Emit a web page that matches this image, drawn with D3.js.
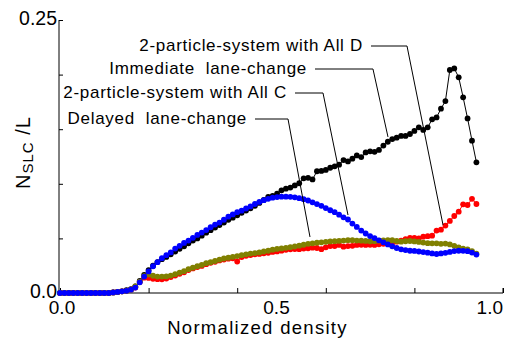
<!DOCTYPE html>
<html>
<head>
<meta charset="utf-8">
<script src="https://cdn.jsdelivr.net/npm/d3@7"></script>
<style>
  body { margin: 0; background: #fff; }
  svg text { font-family: "Liberation Sans", Arial, sans-serif; fill: #000; white-space: pre; }
</style>
</head>
<body>
<div id="chart"></div>
<script>
// normalized density (x) shared by all series
const density = [
  0.00,0.01,0.02,0.03,0.04,0.05,0.06,0.07,0.08,0.09,
  0.10,0.11,0.12,0.13,0.14,0.15,0.16,0.17,0.18,0.19,
  0.20,0.21,0.22,0.23,0.24,0.25,0.26,0.27,0.28,0.29,
  0.30,0.31,0.32,0.33,0.34,0.35,0.36,0.37,0.38,0.39,
  0.40,0.41,0.42,0.43,0.44,0.45,0.46,0.47,0.48,0.49,
  0.50,0.51,0.52,0.53,0.54,0.55,0.56,0.57,0.58,0.59,
  0.60,0.61,0.62,0.63,0.64,0.65,0.66,0.67,0.68,0.69,
  0.70,0.71,0.72,0.73,0.74,0.75,0.76,0.77,0.78,0.79,
  0.80,0.81,0.82,0.83,0.84,0.85,0.86,0.87,0.88,0.89,
  0.90,0.91,0.92,0.93,0.94
];

// 2-particle-system with All D (black)
const allD = [
  0,0,0,0,0,0,0,0,0,0,
  0,0,0.0005,0.001,0.0015,0.0025,0.0035,0.006,0.011,0.0165,
  0.021,0.025,0.0283,0.031,0.033,0.0355,0.038,0.0405,0.0428,0.0455,
  0.048,0.05,0.0525,0.0552,0.0575,0.06,0.0622,0.0645,0.067,0.069,
  0.0712,0.0735,0.0755,0.0775,0.0798,0.0825,0.0852,0.088,0.089,0.091,
  0.094,0.0955,0.0965,0.0985,0.1005,0.105,0.1055,0.104,0.1115,0.1118,
  0.1127,0.1147,0.116,0.1175,0.1217,0.1205,0.123,0.126,0.1245,0.1287,
  0.1297,0.1293,0.131,0.135,0.1385,0.141,0.1422,0.1438,0.1438,0.1456,
  0.1484,0.1517,0.1493,0.1517,0.159,0.1608,0.1688,0.1758,0.2042,0.2057,
  0.1975,0.1792,0.1599,0.1395,0.1197
];

// Immediate lane-change (red)
const immediate = [
  0,0,0,0,0,0,0,0,0,0,
  0,0,0.0005,0.001,0.0015,0.002,0.003,0.005,0.01,0.014,
  0.0138,0.013,0.0127,0.0125,0.0133,0.0146,0.016,0.0176,0.019,0.021,
  0.0225,0.0238,0.0248,0.0264,0.0276,0.0286,0.0298,0.0306,0.0314,0.0318,
  0.0288,0.0329,0.034,0.0348,0.0354,0.0358,0.0363,0.0368,0.0376,0.0381,
  0.0388,0.0395,0.04,0.0403,0.0401,0.0407,0.041,0.0415,0.0412,0.0401,
  0.0418,0.043,0.043,0.044,0.0424,0.043,0.0432,0.044,0.0441,0.044,
  0.0441,0.044,0.0446,0.0451,0.0458,0.0462,0.047,0.048,0.0494,0.0504,
  0.0504,0.0501,0.0516,0.052,0.0525,0.0572,0.058,0.0617,0.066,0.0705,
  0.0745,0.0812,0.0806,0.0862,0.0815
];

// Delayed lane-change (olive)
const delayed = [
  0,0,0,0,0,0,0,0,0,0,
  0,0,0.0005,0.001,0.0015,0.002,0.003,0.006,0.0105,0.0155,
  0.017,0.0158,0.015,0.015,0.0152,0.016,0.0172,0.0187,0.02,0.0218,
  0.0232,0.0245,0.0257,0.0273,0.0282,0.0293,0.0305,0.0316,0.0323,0.0331,
  0.0338,0.0346,0.0354,0.0361,0.0366,0.0372,0.038,0.0387,0.0397,0.0404,
  0.0408,0.0414,0.042,0.0426,0.0433,0.0442,0.045,0.0455,0.046,0.0464,
  0.0469,0.0472,0.0475,0.0477,0.048,0.0484,0.0483,0.048,0.0479,0.0477,
  0.0474,0.0475,0.0479,0.0482,0.0485,0.0484,0.0476,0.047,0.0474,0.0476,
  0.0472,0.0468,0.0462,0.0456,0.0455,0.0455,0.045,0.0453,0.0445,0.0432,
  0.0418,0.0407,0.04,0.0383,0.036
];

// 2-particle-system with All C (blue)
const allC = [
  0,0,0,0,0,0,0,0,0,0,
  0,0,0.0005,0.001,0.0015,0.002,0.003,0.005,0.0098,0.015,
  0.0198,0.0245,0.0282,0.0318,0.0346,0.0372,0.0407,0.0432,0.0459,0.048,
  0.0505,0.0532,0.0553,0.0576,0.0602,0.0627,0.0645,0.0671,0.0699,0.072,
  0.074,0.0754,0.0774,0.0793,0.0815,0.0834,0.085,0.0862,0.0873,0.0878,
  0.0882,0.0882,0.0881,0.0876,0.0868,0.0859,0.0847,0.083,0.0814,0.0798,
  0.0778,0.0758,0.074,0.0717,0.0693,0.0673,0.0636,0.0605,0.0572,0.0545,
  0.0521,0.0503,0.0482,0.0464,0.0445,0.0428,0.0412,0.04,0.0393,0.0387,
  0.0385,0.038,0.0375,0.0369,0.0362,0.0357,0.0362,0.0368,0.0376,0.0384,
  0.0387,0.0386,0.0383,0.037,0.0352
];

const xTicks = [0, 0.2, 0.4, 0.6, 0.8, 1.0];
const xLabels = ["0.0", "0.5", "1.0"];
const yTicks = [0, 0.05, 0.1, 0.15, 0.2, 0.25];
const yLabels = ["0.0", "0.25"];

const seriesNames = ["2-particle-system with All D", "Immediate  lane-change",
                     "2-particle-system with All C", "Delayed  lane-change"];
// where each leader line ends: [density, value]
const leaderTargets = [[0.8646, 0.0623], [0.7404, 0.1429], [0.6501, 0.0714], [0.5643, 0.0513]];
// density of the elbow of each leader
const leaderElbows = [0.7833, 0.7065, 0.5937, 0.5147];

const width = 510, height = 338;
const margin = {top: 20, right: 7, bottom: 45, left: 60};

const svg = d3.select('#chart')
  .append('svg')
  .attr('width', width)
  .attr('height', height);

const x = d3.scaleLinear()
  .domain([0, 1])
  .range([margin.left, width - margin.right]);

const y = d3.scaleLinear()
  .domain([0, 0.25])
  .range([height - margin.bottom, margin.top]);

// axes: ticks point inwards, labels drawn separately
svg.append('g')
  .attr('transform', `translate(0,${y(0)})`)
  .call(d3.axisBottom(x).tickValues(xTicks).tickSize(-5).tickFormat(''))
  .call(g => g.select('.domain').attr('d', `M${x(0)},0H${x(1)}V-5`));

svg.append('g')
  .attr('transform', `translate(${x(0) - 1},0)`)
  .call(d3.axisLeft(y).tickValues(yTicks).tickSize(-4).tickFormat(''))
  .call(g => g.select('.domain').attr('d', `M0,${y(0)}V${y(0.25)}`));

svg.append('g')
  .selectAll('text')
  .data(xLabels)
  .enter()
  .append('text')
  .attr('x', d => x(+d))
  .attr('y', y(0) + 21)
  .attr('text-anchor', (d, i) => i === xLabels.length - 1 ? 'end' : 'middle')
  .attr('dx', (d, i) => i === 0 ? 2 : (i === 1 ? -5 : 0))
  .style('font-size', '19px')
  .text(d => d);

svg.append('g')
  .selectAll('text')
  .data(yLabels)
  .enter()
  .append('text')
  .attr('x', x(0) - 3)
  .attr('y', d => y(+d) + 5)
  .attr('text-anchor', 'end')
  .style('font-size', '19.5px')
  .text(d => d);

// axis titles
svg.append('text')
  .attr('x', (x(0) + x(1)) / 2 - 24)
  .attr('y', height - 4)
  .attr('text-anchor', 'middle')
  .style('font-size', '18.5px')
  .style('letter-spacing', '1.3px')
  .text('Normalized density');

const yTitle = svg.append('text')
  .attr('transform', `translate(30,${(y(0) + y(0.25)) / 2 - 4}) rotate(-90)`)
  .attr('text-anchor', 'middle')
  .style('font-size', '20px')
  .style('letter-spacing', '1px');
yTitle.append('tspan').text('N');
yTitle.append('tspan').attr('dy', 3).style('font-size', '15px').text('SLC');
yTitle.append('tspan').attr('dy', -3).text(' /L');

// series
const series = [
  {values: allD, color: '#000000'},
  {values: immediate, color: '#ff0000'},
  {values: delayed, color: '#808000'},
  {values: allC, color: '#0000ff'}
];

const line = d3.line()
  .x((d, i) => x(density[i]))
  .y(d => y(d));

series.forEach(s => {
  const g = svg.append('g');
  g.append('path')
    .attr('d', line(s.values))
    .attr('fill', 'none')
    .attr('stroke', s.color)
    .attr('stroke-width', 1);
  g.selectAll('circle')
    .data(s.values)
    .enter()
    .append('circle')
    .attr('cx', (d, i) => x(density[i]))
    .attr('cy', d => y(d))
    .attr('r', 2.9)
    .attr('fill', s.color);
});

// annotation labels with leader lines
const labelRight = [363, 307, 287, 247];
const labelBase = [51, 74, 98, 124];

seriesNames.forEach((name, i) => {
  svg.append('text')
    .attr('x', labelRight[i])
    .attr('y', labelBase[i])
    .attr('text-anchor', 'end')
    .style('font-size', '17px')
    .style('letter-spacing', '0.7px')
    .text(name);
  const ly = labelBase[i] - 5;
  svg.append('path')
    .attr('d', `M${labelRight[i] + 8},${ly}H${x(leaderElbows[i])}L${x(leaderTargets[i][0])},${y(leaderTargets[i][1])}`)
    .attr('fill', 'none')
    .attr('stroke', '#000')
    .attr('stroke-width', 1);
});
</script>
</body>
</html>
